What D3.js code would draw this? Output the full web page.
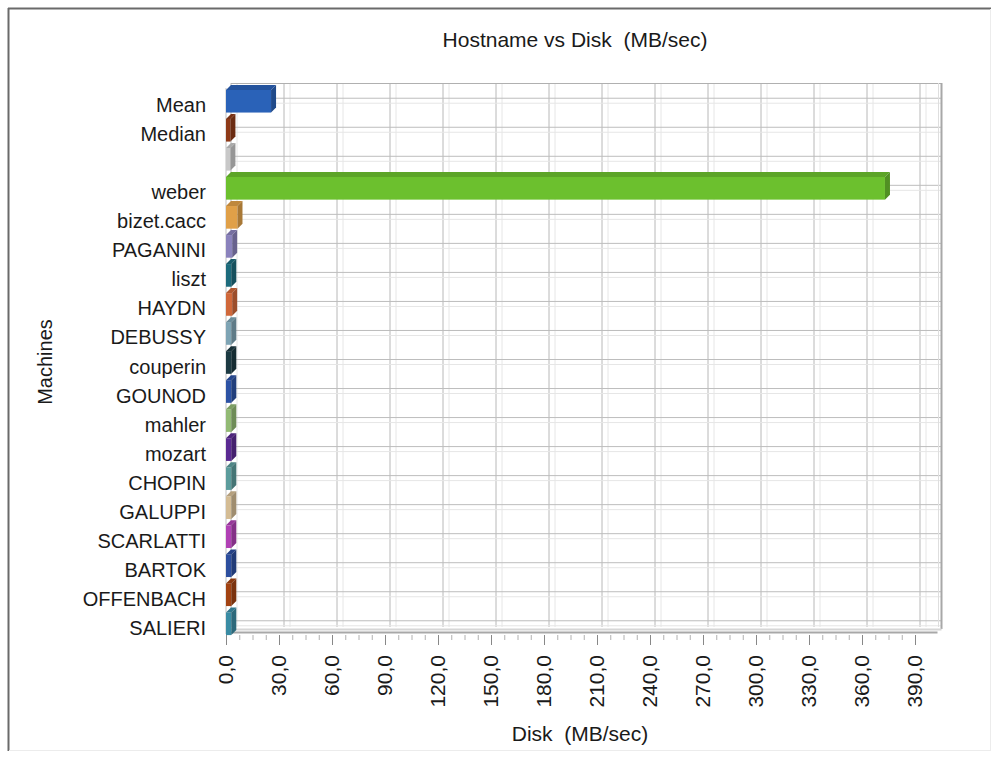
<!DOCTYPE html>
<html><head><meta charset="utf-8">
<script src="https://cdn.jsdelivr.net/npm/d3@7/dist/d3.min.js"></script>
<style>
html,body{margin:0;padding:0;background:#fff;}
svg{display:block;font-family:"Liberation Sans",Arial,sans-serif;}
</style></head>
<body>
<svg id="chart" width="999" height="758"></svg>
<script>
const categories = ["Mean","Median","","weber","bizet.cacc","PAGANINI","liszt","HAYDN","DEBUSSY","couperin","GOUNOD","mahler","mozart","CHOPIN","GALUPPI","SCARLATTI","BARTOK","OFFENBACH","SALIERI"];
const values = [25.5, 2.5, 2.5, 373, 6.5, 3.5, 3, 3.5, 3, 3, 3, 3, 3, 3, 3, 3, 3, 3, 3];
const barColors = ["#2a62b8","#8e3a18","#c8c8c8","#6cc02e","#e0a048","#8a82bc","#1d6b7c","#d0683a","#7ea4b4","#1c3a42","#2c52a4","#92ba74","#5a2a92","#5c9c9c","#d4bc94","#b040b4","#2c4e9e","#a24212","#3a8ca4"];
const xTicks = [0,30,60,90,120,150,180,210,240,270,300,330,360,390];
const chartTitle = "Hostname vs Disk  (MB/sec)";
const xTitle = "Disk  (MB/sec)";
const yTitle = "Machines";

const svg = d3.select("#chart");
const D = 5; // 3D depth
const x = d3.scaleLinear().domain([0, 405]).range([226, 941.5]);
const y = d3.scaleBand().domain(categories).range([87, 638]).paddingInner(0.22).paddingOuter(0.1);
const fmt = v => d3.format(".1f")(v).replace(".", ",");

// outer frame
svg.append("line").attr("x1",8.5).attr("y1",8).attr("x2",8.5).attr("y2",751).attr("stroke","#6a6a6a").attr("stroke-width",2);
svg.append("line").attr("x1",8).attr("y1",8.5).attr("x2",991).attr("y2",8.5).attr("stroke","#6a6a6a").attr("stroke-width",2);
svg.append("line").attr("x1",990.5).attr("y1",9).attr("x2",990.5).attr("y2",751).attr("stroke","#ececec");
svg.append("line").attr("x1",9).attr("y1",750.5).attr("x2",991).attr("y2",750.5).attr("stroke","#ececec");

const x0 = x(0), xR = x.range()[1];
const plotTop = 83, plotBottom = 632;

// back wall grid: vertical
const grid = svg.append("g");
xTicks.forEach(v => {
  grid.append("line").attr("x1",x(v)+D+6).attr("x2",x(v)+D+6).attr("y1",plotTop).attr("y2",plotBottom-D).attr("stroke","#e6e6e6");
  grid.append("line").attr("x1",x(v)+D).attr("x2",x(v)+D).attr("y1",plotTop).attr("y2",plotBottom-D).attr("stroke","#b8b8b8");
});
// horizontal
categories.forEach(c => {
  const cy = y(c) + y.bandwidth()/2;
  grid.append("line").attr("x1",x0+D).attr("x2",xR).attr("y1",cy+2).attr("y2",cy+2).attr("stroke","#e6e6e6");
  grid.append("line").attr("x1",x0+D).attr("x2",xR).attr("y1",cy-3).attr("y2",cy-3).attr("stroke","#bdbdbd");
});
// walls
grid.append("line").attr("x1",x0+D).attr("x2",xR).attr("y1",plotTop+0.5).attr("y2",plotTop+0.5).attr("stroke","#b0b0b0");
grid.append("line").attr("x1",xR).attr("x2",xR).attr("y1",plotTop).attr("y2",plotBottom-D+2).attr("stroke","#a8a8a8").attr("stroke-width",2);
grid.append("line").attr("x1",xR-3).attr("x2",xR-3).attr("y1",plotTop).attr("y2",plotBottom-D).attr("stroke","#dedede");
grid.append("line").attr("x1",x0).attr("x2",x0).attr("y1",plotTop+D).attr("y2",plotBottom+2).attr("stroke","#c0c0c0");
// floor
grid.append("line").attr("x1",x0).attr("x2",xR).attr("y1",plotBottom-2.5).attr("y2",plotBottom-2.5).attr("stroke","#d6d6d6").attr("stroke-width",2);
grid.append("line").attr("x1",x0).attr("x2",xR-4).attr("y1",plotBottom+0.5).attr("y2",plotBottom+0.5).attr("stroke","#a8a8a8").attr("stroke-width",2);

// bars
const bars = svg.append("g");
categories.forEach((c,i) => {
  const v = values[i], col = d3.color(barColors[i]);
  const yt = y(c), yb = y(c) + y.bandwidth();
  const xa = x(0), xb = x(v);
  const topCol = col.darker(0.45), sideCol = col.darker(0.8);
  bars.append("rect").attr("x",xa).attr("y",yt).attr("width",xb-xa).attr("height",yb-yt).attr("fill",col.formatHex());
  bars.append("polygon").attr("points",[[xa,yt],[xa+D,yt-D],[xb+D,yt-D],[xb,yt]].map(p=>p.join(",")).join(" ")).attr("fill",topCol.formatHex());
  bars.append("polygon").attr("points",[[xb,yt],[xb+D,yt-D],[xb+D,yb-D],[xb,yb]].map(p=>p.join(",")).join(" ")).attr("fill",sideCol.formatHex());
});

// x ticks
const ax = svg.append("g");
const minor = d3.range(0, 397.5, 7.5);
minor.forEach(v => {
  const major = xTicks.includes(v);
  ax.append("line").attr("x1",x(v)+0.5).attr("x2",x(v)+0.5).attr("y1",plotBottom+3).attr("y2",plotBottom+(major?13:8)).attr("stroke",major?"#888":"#b0b0b0");
});
xTicks.forEach(v => {
  ax.append("text").attr("transform",`translate(${x(v)+7},${655}) rotate(-90)`)
    .attr("text-anchor","end").attr("font-size",21).attr("fill","#1a1a1a").text(fmt(v));
});

// y labels
categories.forEach(c => {
  const cy = y(c) + y.bandwidth()/2;
  svg.append("text").attr("x",206).attr("y",cy+11).attr("text-anchor","end")
    .attr("font-size",20).attr("fill","#1a1a1a").text(c);
});

// titles
svg.append("text").attr("x",575).attr("y",47).attr("text-anchor","middle").attr("font-size",21)
  .attr("fill","#1a1a1a").style("white-space","pre").text(chartTitle);
svg.append("text").attr("x",580).attr("y",741).attr("text-anchor","middle").attr("font-size",21)
  .attr("fill","#1a1a1a").style("white-space","pre").text(xTitle);
svg.append("text").attr("transform","translate(52,362) rotate(-90)").attr("text-anchor","middle")
  .attr("font-size",20).attr("fill","#1a1a1a").text(yTitle);
</script>
</body></html>
